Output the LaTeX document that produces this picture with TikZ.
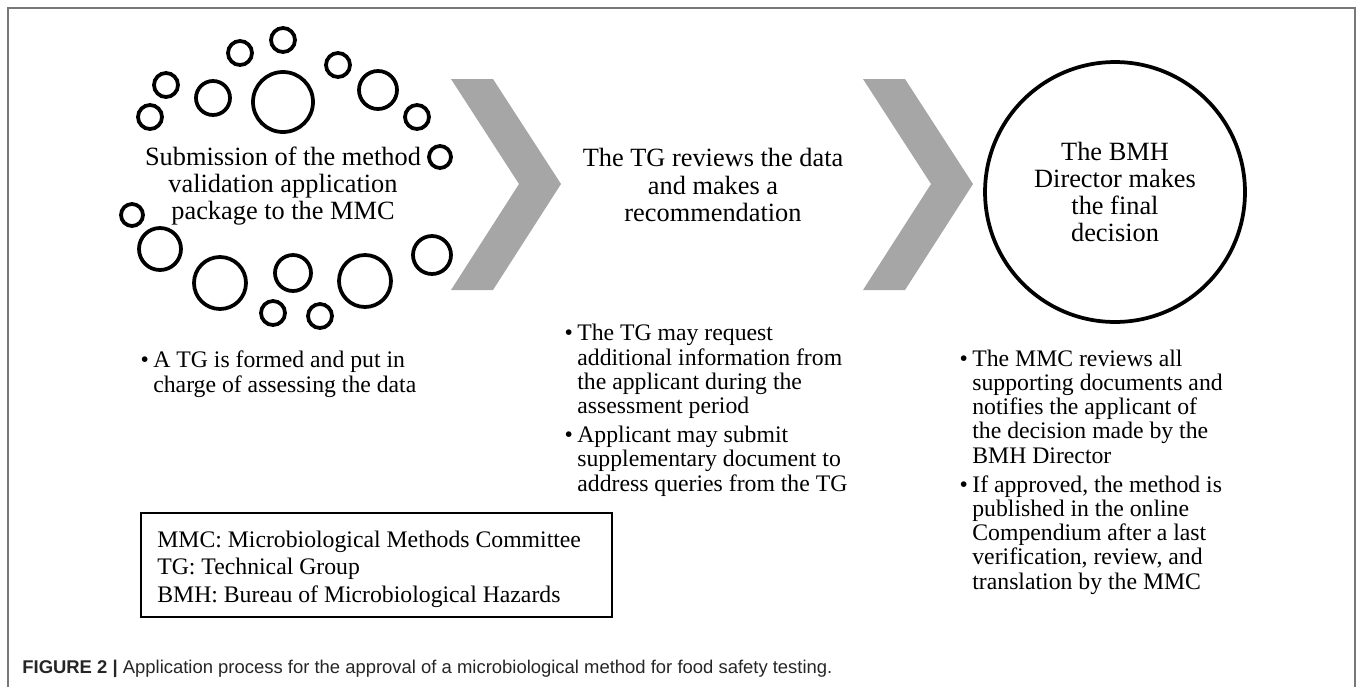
\documentclass[tikz,border=0pt]{standalone}
\usepackage{fontspec}
\setmainfont{Liberation Serif}
\newfontfamily\capfont{Liberation Sans}
\definecolor{chevgray}{RGB}{166,166,166}
\definecolor{framegray}{RGB}{120,120,120}
% hanging bullet in front of a list item
\newcommand{\bul}{\makebox[0pt][r]{\textbullet\hspace{2.5pt}}}

\begin{document}
\begin{tikzpicture}[x=0.02cm, y=-0.02cm,
  ring/.style={draw, line width=0.075cm},
  chevron/.style={fill=chevgray, draw=none},
  heading/.style={align=center, font=\fontsize{15}{15.4}\selectfont},
  bullets/.style={align=left, anchor=base west, inner sep=0pt, font=\fontsize{13.5}{13.8}\selectfont}]

\useasboundingbox (0,0) rectangle (1358,687);

% Frame (open at the bottom)
\draw[framegray, line width=0.8pt] (8,687) -- (8,8) -- (1355,8) -- (1355,687);

% Bubbles around the submission step
\foreach \x/\y/\r in {283/40/12, 240/53/12, 166/85/12, 213/98/17, 283/102/30,
  338/65/12, 378/90/19, 417/117/12, 150/117/12, 440/157/11, 132/215/11,
  160/249/21, 220/283/26, 293/273/18, 273/313/12, 320/316/12, 365/281/26, 432/255/19}
  \draw[ring] (\x,\y) circle[radius=\r];

% Chevrons between the steps
\foreach \dx in {0,412}
  \fill[chevron, xshift=\dx*0.02cm] (451,79) -- (493,79) -- (561,184) -- (493,290)
    -- (451,290) -- (519,184) -- cycle;

% Steps
\node[heading] (submit) at (283,186) {Submission of the method\\validation application\\package to the MMC};
\node[heading] (review) at (713,185) {The TG reviews the data\\and makes a\\recommendation};
\node[ring, circle, minimum size=5.2cm, heading] (decision) at (1115,192)
  {The BMH\\Director makes\\the final\\decision};

% Details under each step (placed at the last baseline)
\node[bullets] (formed) at (153,392) {\bul A TG is formed and put in\\charge of assessing the data};
\node[bullets] (request) at (577,491) {\bul The TG may request\\additional information from\\the applicant during the\\assessment period\\[2.6pt]\bul Applicant may submit\\supplementary document to\\address queries from the TG};
\node[bullets] (notify) at (972,589) {\bul The MMC reviews all\\supporting documents and\\notifies the applicant of\\the decision made by the\\BMH Director\\[2.6pt]\bul If approved, the method is\\published in the online\\Compendium after a last\\verification, review, and\\translation by the MMC};

% Abbreviations
\draw[line width=1.1pt] (141,513) rectangle (612,617);
\node[bullets, font=\fontsize{13.5}{15.6}\selectfont] (abbrev) at (157,602)
  {MMC: Microbiological Methods Committee\\TG: Technical Group\\BMH: Bureau of Microbiological Hazards};

% Caption
\node[anchor=base west, inner sep=0pt, text=black!85, font=\capfont\fontsize{10.5}{12}\selectfont] (caption) at (22,673)
  {\textbf{FIGURE 2 |} Application process for the approval of a microbiological method for food safety testing.};
\end{tikzpicture}
\end{document}
